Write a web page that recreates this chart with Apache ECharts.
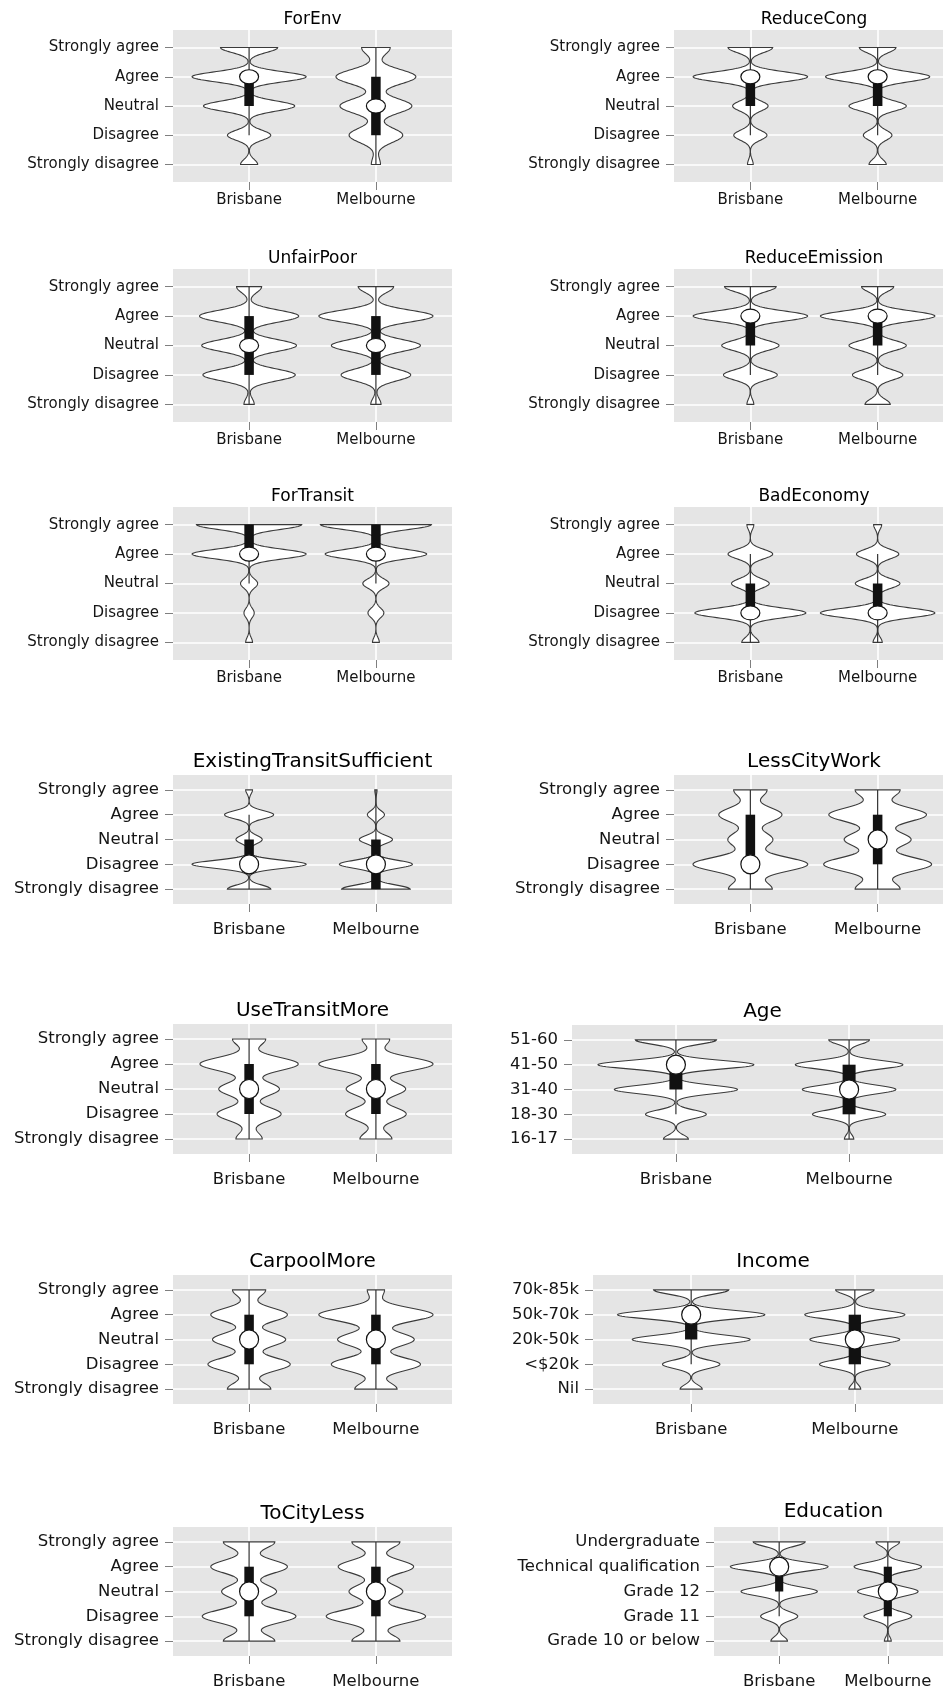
<!DOCTYPE html>
<html lang="en">
<head>
<meta charset="UTF-8">
<title>Violin plots</title>
<script src="https://cdn.jsdelivr.net/npm/echarts@6/dist/echarts.min.js"></script>
<style>
  html, body { margin: 0; padding: 0; background: #fff; }
  #main { width: 943px; height: 1691px; }
</style>
</head>
<body>
<div id="main"></div>
<script>
// categories
var cities = ['Brisbane', 'Melbourne'];
var agreeLevels = ['Strongly disagree', 'Disagree', 'Neutral', 'Agree', 'Strongly agree'];
var ageLevels = ['16-17', '18-30', '31-40', '41-50', '51-60'];
var incomeLevels = ['Nil', '<$20k', '20k-50k', '50k-70k', '70k-85k'];
var eduLevels = ['Grade 10 or below', 'Grade 11', 'Grade 12', 'Technical qualification', 'Undergraduate'];

var panelNames = ['ForEnv', 'ReduceCong', 'UnfairPoor', 'ReduceEmission', 'ForTransit', 'BadEconomy',
  'ExistingTransitSufficient', 'LessCityWork', 'UseTransitMore', 'Age', 'CarpoolMore', 'Income',
  'ToCityLess', 'Education'];
var panelLevels = [agreeLevels, agreeLevels, agreeLevels, agreeLevels, agreeLevels, agreeLevels,
  agreeLevels, agreeLevels, agreeLevels, ageLevels, agreeLevels, incomeLevels, agreeLevels, eduLevels];

// violin density at each level (bottom -> top), 1 = widest violin
var densBrisbane = [
  [0.15, 0.38, 0.80, 1.00, 0.50], // ForEnv
  [0.05, 0.29, 0.31, 1.00, 0.39], // ReduceCong
  [0.09, 0.81, 0.83, 0.87, 0.22], // UnfairPoor
  [0.06, 0.47, 0.50, 1.00, 0.45], // ReduceEmission
  [0.06, 0.09, 0.15, 1.00, 0.92], // ForTransit
  [0.15, 0.97, 0.33, 0.39, 0.06], // BadEconomy
  [0.38, 1.00, 0.23, 0.43, 0.06], // ExistingTransitSufficient
  [0.38, 1.00, 0.39, 0.55, 0.29], // LessCityWork
  [0.23, 0.56, 0.53, 0.86, 0.29], // UseTransitMore
  [0.16, 0.39, 0.79, 1.00, 0.52], // Age
  [0.38, 0.72, 0.64, 0.67, 0.29], // CarpoolMore
  [0.15, 0.39, 0.80, 1.00, 0.51], // Income
  [0.45, 0.82, 0.48, 0.67, 0.45], // ToCityLess
  [0.17, 0.38, 0.78, 1.00, 0.53]  // Education
];
var densMelbourne = [
  [0.08, 0.47, 0.63, 0.70, 0.25],
  [0.15, 0.25, 0.50, 0.91, 0.32],
  [0.09, 0.61, 0.78, 1.00, 0.31],
  [0.22, 0.44, 0.50, 1.00, 0.28],
  [0.06, 0.14, 0.23, 0.89, 0.97],
  [0.08, 1.00, 0.39, 0.37, 0.07],
  [0.60, 0.64, 0.29, 0.15, 0.02],
  [0.39, 0.94, 0.58, 0.85, 0.39],
  [0.28, 0.53, 0.52, 1.00, 0.24],
  [0.06, 0.47, 0.60, 0.69, 0.26],
  [0.37, 0.78, 0.67, 1.00, 0.15],
  [0.08, 0.48, 0.61, 0.68, 0.26],
  [0.42, 0.87, 0.47, 0.66, 0.42],
  [0.07, 0.49, 0.62, 0.69, 0.24]
];

// kernel bandwidth (in levels) per violin
var bwBrisbane = [0.17, 0.17, 0.2, 0.17, 0.16, 0.16, 0.16, 0.29, 0.27, 0.17, 0.27, 0.17, 0.27, 0.17];
var bwMelbourne = [0.25, 0.17, 0.2, 0.17, 0.16, 0.16, 0.16, 0.29, 0.27, 0.17, 0.27, 0.17, 0.27, 0.17];

// box stats: [whisker low, q1, median, q3, whisker high] as level numbers 1..5
var boxBrisbane = [
  [2, 3, 4, 4, 5], [2, 3, 4, 4, 5], [1, 2, 3, 4, 5], [2, 3, 4, 4, 5], [3, 4, 4, 5, 5],
  [1, 2, 2, 3, 4], [1, 2, 2, 3, 4], [1, 2, 2, 4, 5], [1, 2, 3, 4, 5], [2, 3, 4, 4, 5],
  [1, 2, 3, 4, 5], [2, 3, 4, 4, 5], [1, 2, 3, 4, 5], [2, 3, 4, 4, 5]
];
var boxMelbourne = [
  [1, 2, 3, 4, 5], [2, 3, 4, 4, 5], [1, 2, 3, 4, 5], [2, 3, 4, 4, 5], [3, 4, 4, 5, 5],
  [1, 2, 2, 3, 4], [1, 1, 2, 3, 5], [1, 2, 3, 4, 5], [1, 2, 3, 4, 5], [1, 2, 3, 4, 5],
  [1, 2, 3, 4, 5], [1, 2, 3, 4, 5], [1, 2, 3, 4, 5], [1, 2, 3, 4, 5]
];

// layout: panel [left, top, width, height] and title centre y
var panels = [
  [173, 30, 279, 152], [674, 30, 280, 152],
  [173, 269, 279, 153], [674, 269, 280, 153],
  [173, 507, 279, 153], [674, 507, 280, 153],
  [173, 775, 279, 129], [674, 775, 280, 129],
  [173, 1024, 279, 130], [572, 1025, 381, 129],
  [173, 1275, 279, 129], [593, 1275, 360, 129],
  [173, 1527, 279, 129], [714, 1527, 239, 129]
];
var titleY = [20, 20, 259, 259, 497, 497, 762, 762, 1011, 1012, 1262, 1262, 1514, 1512];

var chart = echarts.init(document.getElementById('main'));
var FONT = 'DejaVu Sans';

function makeRenderer(i) {
  return function (params, api) {
    var c = api.value(0);
    var dens = c === 1 ? densBrisbane[i] : densMelbourne[i];
    var box = c === 1 ? boxBrisbane[i] : boxMelbourne[i];
    var bw = c === 1 ? bwBrisbane[i] : bwMelbourne[i];
    var unit = api.size([1, 1]);
    var halfMax = 0.45 * unit[0];
    var right = [], left = [];
    var steps = 200;
    for (var j = 0; j <= steps; j++) {
      var t = 1 + 4 * j / steps;
      var w = 0;
      for (var k = 0; k < dens.length; k++) {
        var d = (t - (k + 1)) / bw;
        w += dens[k] * Math.exp(-0.5 * d * d);
      }
      var pt = api.coord([c, t]);
      right.push([pt[0] + w * halfMax, pt[1]]);
      left.push([pt[0] - w * halfMax, pt[1]]);
    }
    var outline = right.concat(left.reverse());
    var cx = api.coord([c, 1])[0];
    var yLo = api.coord([c, box[0]])[1];
    var yQ1 = api.coord([c, box[1]])[1];
    var yMed = api.coord([c, box[2]])[1];
    var yQ3 = api.coord([c, box[3]])[1];
    var yHi = api.coord([c, box[4]])[1];
    var boxW = 0.075 * unit[0];
    var big = i >= 6;
    return {
      type: 'group',
      children: [
        { type: 'polygon', shape: { points: outline }, style: { fill: '#FFFFFF', stroke: '#3A3A3A', lineWidth: 1.1 } },
        { type: 'line', shape: { x1: cx, y1: yLo, x2: cx, y2: yHi }, style: { stroke: '#333333', lineWidth: 1.2 } },
        { type: 'rect', shape: { x: cx - boxW / 2, y: yQ3, width: boxW, height: yQ1 - yQ3 }, style: { fill: '#111111' } },
        { type: 'ellipse', shape: { cx: cx, cy: yMed, rx: 9.5, ry: big ? 9.5 : 7 }, style: { fill: '#FFFFFF', stroke: '#111111', lineWidth: 1.2 } }
      ]
    };
  };
}

var grids = [], xAxes = [], yAxes = [], series = [], graphics = [];
panels.forEach(function (p, i) {
  var big = i >= 6;
  var fs = big ? 16.5 : 15;
  var levels = panelLevels[i];
  grids.push({
    left: p[0], top: p[1], width: p[2], height: p[3],
    show: true, backgroundColor: '#E5E5E5', borderWidth: 0,
    containLabel: false, outerBoundsMode: 'none'
  });
  xAxes.push({
    type: 'value', gridIndex: i, min: 0.4, max: 2.6,
    axisLine: { show: false },
    axisTick: { show: true, length: 8, customValues: [1, 2], lineStyle: { color: '#7F7F7F', width: 1 } },
    axisLabel: {
      customValues: [1, 2], margin: big ? 17 : 11,
      fontFamily: FONT, fontSize: fs, color: '#151515',
      formatter: function (v) { return cities[Math.round(v) - 1]; }
    },
    splitLine: { show: true, lineStyle: { color: '#FFFFFF', width: 1.6 } }
  });
  yAxes.push({
    type: 'value', gridIndex: i, min: 0.4, max: 5.6,
    axisLine: { show: false },
    axisTick: { show: true, length: 8, customValues: [1, 2, 3, 4, 5], lineStyle: { color: '#7F7F7F', width: 1 } },
    axisLabel: {
      customValues: [1, 2, 3, 4, 5], margin: 14,
      fontFamily: FONT, fontSize: fs, color: '#151515',
      formatter: function (v) { return levels[Math.round(v) - 1]; }
    },
    splitLine: { show: true, lineStyle: { color: '#FFFFFF', width: 1.6 } }
  });
  series.push({
    type: 'custom', name: panelNames[i],
    coordinateSystem: 'cartesian2d', xAxisIndex: i, yAxisIndex: i,
    data: [[1], [2]],
    renderItem: makeRenderer(i)
  });
  graphics.push({
    type: 'text', x: p[0] + p[2] / 2, y: titleY[i],
    style: {
      text: panelNames[i], fontFamily: FONT, fontSize: big ? 20 : 17,
      fill: '#000000', align: 'center', verticalAlign: 'middle'
    }
  });
});

chart.setOption({
  animation: false,
  backgroundColor: '#FFFFFF',
  grid: grids,
  xAxis: xAxes,
  yAxis: yAxes,
  series: series,
  graphic: graphics
});
</script>
</body>
</html>
